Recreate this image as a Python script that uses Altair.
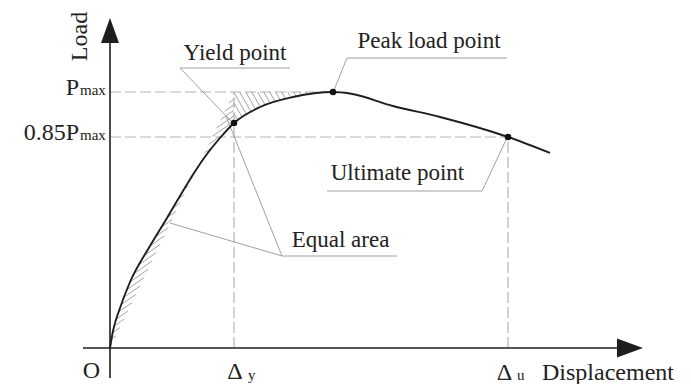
import altair as alt
import numpy as np
import pandas as pd

# ---------------- values (arbitrary units) ----------------
curve_disp = [0, 3, 10, 20, 40, 57, 70, 84, 97, 110, 124, 150, 183, 223, 240, 283, 330, 398, 440]
curve_load = [0, 17, 40, 66, 102, 130, 152, 175, 194, 210, 225, 241, 251, 256, 254.5, 242, 231, 211, 195]

P_max = 256          # peak load level
P_085 = 211          # 0.85 Pmax level
delta_y = 124        # yield displacement
delta_u = 398        # ultimate displacement
peak_disp = 223      # displacement at peak load

key_names = ["Yield point", "Peak load point", "Ultimate point"]
key_disp = [124, 223, 398]
key_load = [225, 256, 211]

# idealised bilinear line (equal-area construction)
bilin_disp = [0, delta_y, peak_disp]
bilin_load = [0, P_max, P_max]

FONT = "'Liberation Serif', 'Times New Roman', Times, serif"
TXT = "#222222"
DARK = "#1e1e1e"

XS = alt.Scale(domain=[-102, 573], nice=False, zero=False)
YS = alt.Scale(domain=[-36, 340], nice=False, zero=False)


def X(f="x"):
    return alt.X(f"{f}:Q", scale=XS, axis=None)


def Y(f="y"):
    return alt.Y(f"{f}:Q", scale=YS, axis=None)


# ---------------- hatch geometry derived from the curve and bilinear line ----------------
def monotone_dense(xs, ys, n=24):
    xs = np.asarray(xs, float)
    ys = np.asarray(ys, float)
    h = np.diff(xs)
    s = np.diff(ys) / h
    m = np.zeros(len(xs))
    for i in range(1, len(xs) - 1):
        h0, h1 = h[i - 1], h[i]
        s0, s1 = s[i - 1], s[i]
        p = (s0 * h1 + s1 * h0) / (h0 + h1)
        m[i] = (np.sign(s0) + np.sign(s1)) * min(abs(s0), abs(s1), 0.5 * abs(p))
    m[0] = (3 * s[0] - m[1]) / 2
    m[-1] = (3 * s[-1] - m[-2]) / 2
    px, py = [], []
    for i in range(len(h)):
        t = np.linspace(0, 1, n, endpoint=False)
        dx = h[i] / 3
        P0 = np.array([xs[i], ys[i]])
        P1 = np.array([xs[i] + dx, ys[i] + dx * m[i]])
        P2 = np.array([xs[i + 1] - dx, ys[i + 1] - dx * m[i + 1]])
        P3 = np.array([xs[i + 1], ys[i + 1]])
        b = ((1 - t) ** 3)[:, None] * P0 + (3 * (1 - t) ** 2 * t)[:, None] * P1 \
            + (3 * (1 - t) * t ** 2)[:, None] * P2 + (t ** 3)[:, None] * P3
        px.extend(b[:, 0])
        py.extend(b[:, 1])
    px.append(xs[-1])
    py.append(ys[-1])
    return np.array(px), np.array(py)


cx, cy = monotone_dense(curve_disp, curve_load)
keep = cx <= peak_disp + 1e-9
cx, cy = cx[keep], cy[keep]
poly = list(zip(bilin_disp, bilin_load)) + list(zip(cx[::-1], cy[::-1]))


def hatch(a, b, cs, side):
    """lines a*x + b*y = c, clipped to the polygon and to one side of delta_y"""
    segs = []
    n = len(poly)
    for c in cs:
        pts = []
        for i in range(n):
            (x0, y0), (x1, y1) = poly[i], poly[(i + 1) % n]
            f0 = a * x0 + b * y0 - c
            f1 = a * x1 + b * y1 - c
            if (f0 < 0) != (f1 < 0):
                t = f0 / (f0 - f1)
                pts.append((x0 + t * (x1 - x0), y0 + t * (y1 - y0)))
        pts.sort()
        for j in range(0, len(pts) - 1, 2):
            (xa, ya), (xb, yb) = pts[j], pts[j + 1]
            if side == "left":
                if xa > delta_y:
                    continue
                if xb > delta_y:
                    t = (delta_y - xa) / (xb - xa)
                    xb, yb = delta_y, ya + t * (yb - ya)
            else:
                if xb < delta_y:
                    continue
                if xa < delta_y:
                    t = (delta_y - xa) / (xb - xa)
                    xa, ya = delta_y, ya + t * (yb - ya)
            if abs(xb - xa) + abs(yb - ya) > 0.3:
                segs.append({"x": xa, "y": ya, "x2": xb, "y2": yb})
    return segs


k_left = 0.7
k_right = 1.75
hatch_rows = hatch(-k_left, 1.0, np.arange(-300, 300, 5.5), "left") + \
    hatch(k_right, 1.0, np.arange(0, 900, 6.0 * k_right), "right")
hatch_df = pd.DataFrame(hatch_rows)

# ---------------- tables ----------------
curve_df = pd.DataFrame({"x": curve_disp, "y": curve_load})
key_df = pd.DataFrame({"name": key_names, "x": key_disp, "y": key_load})

dash_df = pd.DataFrame([
    {"x": 0, "y": P_max, "x2": peak_disp, "y2": P_max},
    {"x": 0, "y": P_085, "x2": delta_u, "y2": P_085},
    {"x": delta_y, "y": 0, "x2": delta_y, "y2": P_max},
    {"x": delta_u, "y": 0, "x2": delta_u, "y2": P_085},
])

leader_df = pd.DataFrame([
    {"x": 70, "y": 280, "x2": 180, "y2": 280},
    {"x": 70, "y": 280, "x2": 121, "y2": 227},
    {"x": 237, "y": 290, "x2": 397, "y2": 290},
    {"x": 237, "y": 290, "x2": 224, "y2": 258},
    {"x": 217, "y": 157, "x2": 372, "y2": 157},
    {"x": 372, "y": 157, "x2": 396, "y2": 208},
    {"x": 172, "y": 92, "x2": 287, "y2": 92},
    {"x": 172, "y": 92, "x2": 116, "y2": 232},
    {"x": 172, "y": 92, "x2": 60, "y2": 125},
])

axis_df = pd.DataFrame([
    {"x": -27, "y": 0, "x2": 508, "y2": 0},
    {"x": 0, "y": -30, "x2": 0, "y2": 306},
])

arrow_y = pd.DataFrame({"x": [0], "y": [317.5]})
arrow_x = pd.DataFrame({"x": [520], "y": [0]})

layers = []

layers.append(alt.Chart(dash_df).mark_rule(color="#b4b4b4", strokeWidth=1.2, strokeDash=[11, 4])
              .encode(x=X(), y=Y(), x2="x2:Q", y2="y2:Q"))
layers.append(alt.Chart(hatch_df).mark_rule(color="#999999", strokeWidth=0.9)
              .encode(x=X(), y=Y(), x2="x2:Q", y2="y2:Q"))
layers.append(alt.Chart(leader_df).mark_rule(color="#a0a0a0", strokeWidth=1)
              .encode(x=X(), y=Y(), x2="x2:Q", y2="y2:Q"))
layers.append(alt.Chart(axis_df).mark_rule(color=DARK, strokeWidth=1.6)
              .encode(x=X(), y=Y(), x2="x2:Q", y2="y2:Q"))
layers.append(alt.Chart(arrow_y).mark_point(shape="M0,-1.25L0.9,1.25L-0.9,1.25Z", size=400,
                                            filled=True, color=DARK, opacity=1)
              .encode(x=X(), y=Y()))
layers.append(alt.Chart(arrow_x).mark_point(shape="M1.3,0L-1.3,0.95L-1.3,-0.95Z", size=400,
                                            filled=True, color=DARK, opacity=1)
              .encode(x=X(), y=Y()))
layers.append(alt.Chart(curve_df).mark_line(interpolate="monotone", color=DARK, strokeWidth=1.9)
              .encode(x=X(), y=Y(), order=alt.Order("x:Q")))
layers.append(alt.Chart(key_df).mark_point(shape="circle", size=42, filled=True, color="#111", opacity=1)
              .encode(x=X(), y=Y()))


def label(text, x, y, size=23, align="center", angle=0):
    df = pd.DataFrame({"x": [x], "y": [y], "t": [text]})
    return alt.Chart(df).mark_text(font=FONT, fontSize=size, color=TXT, align=align,
                                   baseline="alphabetic", angle=angle).encode(x=X(), y=Y(), text="t:N")


layers += [
    label("Yield point", 125, 288),
    label("Peak load point", 319, 300),
    label("Ultimate point", 287.5, 168),
    label("Equal area", 230.5, 101),
    label("P", -31, 253, 24, "right"),
    label("max", -30, 253, 15, "left"),
    label("0.85P", -31, 208, 24, "right"),
    label("max", -30, 208, 15, "left"),
    label("O", -18.5, -30, 24),
    label("Δ", 125, -31, 24),
    label("y", 138, -32, 15, "left"),
    label("Δ", 394.5, -32, 24),
    label("u", 407, -32, 15, "left"),
    label("Displacement", 432, -32, 24, "left"),
    label("Load", -23, 311.5, 24, "center", 270),
]

chart = alt.layer(*layers).properties(
    width=675, height=376, autosize="none", padding=0, background="white"
).configure_view(stroke=None)

chart.save("out.html", embed_options={"renderer": "svg", "actions": False})
